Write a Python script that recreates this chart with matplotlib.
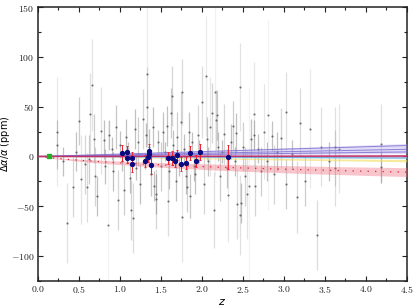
import numpy as np
import matplotlib
matplotlib.use('agg')
import matplotlib.pyplot as plt
from matplotlib.ticker import MultipleLocator, FuncFormatter

# Gray points: redshift, delta alpha / alpha (ppm), 1-sigma error
gray_z = [0.23, 0.23, 0.30, 0.35, 0.43, 0.46, 0.50, 0.53, 0.57, 0.60,
          0.62, 0.64, 0.655, 0.68, 0.70, 0.72, 0.77, 0.80, 0.82, 0.85,
          0.87, 0.90, 0.92, 0.95, 0.98, 1.00, 1.02, 1.05, 1.07, 1.10,
          1.12, 1.13, 1.16, 1.18, 1.20, 1.22, 1.25, 1.28, 1.30, 1.32,
          1.335, 1.335, 1.36, 1.38, 1.40, 1.42, 1.445, 1.445, 1.47, 1.50,
          1.52, 1.55, 1.58, 1.59, 1.60, 1.62, 1.636, 1.65, 1.68, 1.70,
          1.72, 1.74, 1.763, 1.76, 1.78, 1.80, 1.82, 1.84, 1.86, 1.88,
          1.90, 1.92, 1.95, 1.97, 2.007, 2.02, 2.044, 2.06, 2.08, 2.10,
          2.12, 2.146, 2.16, 2.17, 2.18, 2.20, 2.22, 2.25, 2.27, 2.30,
          2.32, 2.35, 2.38, 2.40, 2.42, 2.43, 2.47, 2.47, 2.48, 2.50,
          2.52, 2.55, 2.57, 2.60, 2.63, 2.63, 2.65, 2.68, 2.72, 2.76,
          2.80, 2.81, 2.85, 2.88, 2.92, 2.97, 3.02, 3.03, 3.10, 3.16,
          3.20, 3.26, 3.32, 3.40, 3.45, 3.55, 3.62, 3.62, 3.67, 4.19,
          4.19]
gray_da = [25, 12, -5, -67, -31, 5, 36, -23, -8, -31,
           -3, 43, 72, 18, -20, -40, 26, 17, -10, -69,
           22, 8, -15, 30, -44, 12, -5, -34, 20, 5,
           -22, -54, -62, 28, -12, 15, -28, 38, -5, 22,
           83, 50, 10, -18, 30, -30, -43, -38, 15, -10,
           25, 5, 30.6, -45, -15, 43.7, 61, 12, -25, 20,
           -8, 35, 64.5, -61, 8, -20, -31, 25, -40, 15,
           -10, -18, 22, 5, 55, -28, 81, 18, -5, 30,
           44, -54, 65, 36.6, 41.6, 10, -20, 5, 22.6, -12,
           -39, 15, 30.6, -5, 24, -48, 70, -59, -46.7, 10,
           -20, -38, -30, 18, 42.7, 21.6, -30, 8, -15, 25,
           -5, 41.6, 21, -18, 5, 19, 44.7, -28, 2, -41,
           34, -25, 28, -78.5, 10, -5, 10, -11.5, 8, 13,
           -11]
gray_err = [55, 25, 15, 40, 30, 20, 24, 45, 30, 35,
            25, 41, 46, 25, 30, 20, 44, 20, 18, 105,
            15, 12, 20, 22, 30, 14, 10, 25, 18, 10,
            15, 30, 35, 20, 12, 25, 20, 30, 8, 12,
            70, 40, 18, 22, 20, 15, 30, 20, 12, 25,
            20, 10, 20, 35, 18, 25, 30, 15, 20, 25,
            12, 30, 33, 45, 15, 18, 25, 20, 22, 10,
            15, 20, 30, 12, 36, 30, 60, 22, 15, 50,
            30, 38, 85, 30, 25, 15, 25, 12, 30, 20,
            47, 18, 25, 15, 20, 35, 44, 40, 20, 25,
            30, 45, 100, 20, 52, 15, 30, 15, 25, 48,
            20, 95, 15, 30, 20, 30, 40, 25, 15, 36,
            35, 25, 60, 35, 40, 20, 40, 38, 45, 40,
            16]

# Blue points with red error bars
blue_z = [1.03, 1.08, 1.08, 1.15, 1.15, 1.30, 1.34, 1.35, 1.35, 1.38,
          1.59, 1.63, 1.67, 1.69, 1.75, 1.81, 1.85, 1.93, 1.98, 2.32]
blue_da = [3.5, 4.2, -1.2, -1.2, -7.2, -4.8, -1.0, 5.5, 2.2, -8.5,
           -1.2, -1.8, -4.8, 1.5, -7.9, -6.2, 3.8, -4.5, 4.5, -0.8]
blue_err = [8, 6, 5, 6, 8, 6, 5, 7, 5, 9,
            6, 7, 6, 5, 7, 6, 7, 6, 8, 12]

# Local point
green_z = [0.14]
green_da = [0.0]

# Linear fits: slope (ppm per unit z), band half-width slope
purple_slopes = [2.45, 1.6, 1.0]
purple_widths = [0.45, 0.4, 0.35]
magenta_slope = 0.1
lightblue_slope = -0.33
yellow_slope = -0.93
# log(1+z) fit for the red dotted model
red_coef = -9.2
red_width = 2.6

zmax = 4.5


def main():
    plt.rcParams['font.size'] = 7
    fig = plt.figure(figsize=(4.16, 3.08), dpi=100)
    ax = fig.add_axes([0.0913, 0.0877, 0.8867, 0.8893])

    zz = np.linspace(0, zmax, 200)

    # gray measurements, error bar opacity fades with error size
    gz = np.array(gray_z)
    gd = np.array(gray_da)
    ge = np.array(gray_err)
    alphas = np.clip(8.0 / ge, 0.07, 0.4)
    colors = [(0.4, 0.4, 0.4, a) for a in alphas]
    ax.vlines(gz, gd - ge, gd + ge, colors=colors, lw=0.9, zorder=1)
    ax.plot(gz, gd, 'o', ms=1.5, color='#505050', alpha=0.8, mew=0,
            zorder=2)

    # model bands
    for s, w in zip(purple_slopes, purple_widths):
        ax.fill_between(zz, (s - w) * zz, (s + w) * zz, color='#a89ce6',
                        alpha=0.35, lw=0, zorder=3)
        ax.plot(zz, s * zz, color='#7b68d0', lw=0.7, alpha=0.8, zorder=4)

    ax.fill_between(zz, yellow_slope * zz - 0.25 * zz,
                    yellow_slope * zz + 0.25 * zz, color='#f2dc5a',
                    alpha=0.6, lw=0, zorder=3)
    ax.fill_between(zz, lightblue_slope * zz - 0.15 * zz,
                    lightblue_slope * zz + 0.15 * zz, color='#8fc8e8',
                    alpha=0.6, lw=0, zorder=3)
    ax.plot(zz, lightblue_slope * zz, color='#5aa8d8', lw=0.6, zorder=4)

    lz = np.log1p(zz)
    ax.fill_between(zz, (red_coef - red_width) * lz,
                    (red_coef + red_width) * lz, color='#f07080',
                    alpha=0.4, lw=0, zorder=3)
    ax.plot(zz, red_coef * lz, ls=(0, (1, 5)), color='#e02030', lw=0.9,
            zorder=4)

    ax.fill_between(zz, magenta_slope * zz - 0.3 * zz,
                    magenta_slope * zz + 0.3 * zz, color='#e080b0',
                    alpha=0.5, lw=0, zorder=3)
    ax.plot(zz, magenta_slope * zz, color='#c0306a', lw=1.1, zorder=5)

    # blue measurements
    ax.errorbar(blue_z, blue_da, yerr=blue_err, fmt='o', ms=2.8,
                color='#0a0a80', ecolor='#f02030', elinewidth=0.7,
                capsize=0.8, capthick=0.7, zorder=6)

    ax.plot(green_z, green_da, 's', ms=2.3, color='#20b020', zorder=7)

    ax.set_xlim(0, zmax)
    ax.set_ylim(-125, 150)

    ax.xaxis.set_major_locator(MultipleLocator(0.5))
    ax.xaxis.set_minor_locator(MultipleLocator(0.25))
    ax.yaxis.set_major_locator(MultipleLocator(50))
    ax.yaxis.set_minor_locator(MultipleLocator(25))
    ax.xaxis.set_major_formatter(FuncFormatter(lambda v, p: r'$%.1f$' % v))
    ax.yaxis.set_major_formatter(FuncFormatter(lambda v, p: r'$%d$' % v))
    ax.tick_params(which='both', direction='in', top=True, right=True,
                   width=0.8, labelsize=7, colors='#222222')
    ax.tick_params(which='major', length=3.5, pad=2.5)
    ax.tick_params(which='minor', length=2)
    for lab in ax.get_xticklabels() + ax.get_yticklabels():
        lab.set_math_fontfamily('cm')
    for sp in ax.spines.values():
        sp.set_linewidth(1.1)
        sp.set_color('#222222')

    ax.set_xlabel(r'$z$', fontsize=8)
    ax.set_ylabel(r'$\Delta\alpha/\alpha$ (ppm)', fontsize=7)
    ax.xaxis.set_label_coords(0.5, -0.06)
    ax.yaxis.set_label_coords(-0.07, 0.5)

    fig.savefig('out.png', dpi=100)


if __name__ == '__main__':
    main()
